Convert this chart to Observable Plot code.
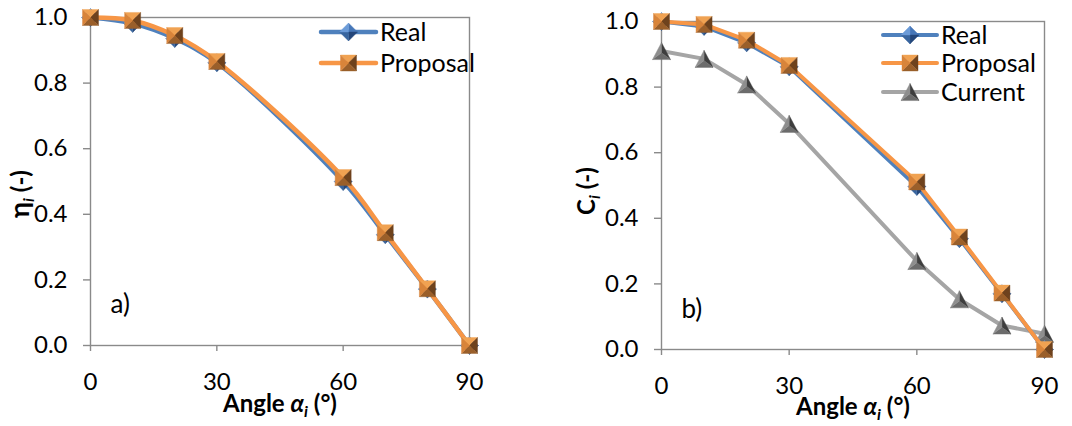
<!DOCTYPE html>
<html><head><meta charset="utf-8">
<script src="https://cdn.jsdelivr.net/npm/d3@7"></script>
<script src="https://cdn.jsdelivr.net/npm/@observablehq/plot@0.6"></script>
<style>
body{margin:0;background:#fff;}
#wrap{display:flex;width:1072px;height:426px;overflow:hidden;}
#wrap svg{flex:none;}
</style></head><body><div id="wrap"></div>
<script>
// ---- data ----
const angles = [0, 10, 20, 30, 60, 70, 80, 90];
const realA = [1.0, 0.982, 0.936, 0.862, 0.500, 0.338, 0.172, 0.0];
const proposalA = [1.0, 0.991, 0.945, 0.866, 0.512, 0.344, 0.173, 0.0];
const realB = [1.0, 0.985, 0.935, 0.862, 0.497, 0.338, 0.170, 0.0];
const proposalB = [1.0, 0.991, 0.943, 0.866, 0.511, 0.343, 0.172, 0.0];
const currentB = [0.910, 0.886, 0.808, 0.688, 0.270, 0.153, 0.073, 0.048];
const seriesNames = ["Real", "Proposal", "Current"];
const xTicks = [0, 30, 60, 90];
const yTicks = [0, 0.2, 0.4, 0.6, 0.8, 1.0];
const panelTags = ["a)", "b)"];

// ---- styles ----
const FONT = "Lato, 'Open Sans', sans-serif";
const FS = 24;
const TICKFS = 24;
const lineColors = {Real: "#4F81BD", Proposal: "#F79646", Current: "#A5A5A5"};
const markerShape = {Real: "diamond", Proposal: "square", Current: "triangle"};
const markerR = {Real: 9, Proposal: 8, Current: 9};
const facetColors = {
  diamond: ["#4677B8", "#24467A", "#38659F", "#6B9BD8"],
  square: ["#F0A252", "#6E421D", "#9A5F2A", "#D8843A"],
  triangle: ["#3E3E3E", "#6C6C6C", "#8E8E8E"]
};

function facetSymbol(shape, i) {
  return {
    draw(ctx, size) {
      const r = Math.sqrt(size / Math.PI);
      let c, apex = [0, 0];
      if (shape === "square") c = [[-r, -r], [r, -r], [r, r], [-r, r]];
      else if (shape === "diamond") c = [[0, -r], [r, 0], [0, r], [-r, 0]];
      else { const h = r * 0.95; c = [[0, -h], [r, h], [-r, h]]; apex = [0, h * 0.2]; }
      const a = c[i], b = c[(i + 1) % c.length];
      ctx.moveTo(a[0], a[1]); ctx.lineTo(b[0], b[1]); ctx.lineTo(apex[0], apex[1]); ctx.closePath();
    }
  };
}

function rows(name, vals) { return angles.map((a, k) => ({angle: a, value: vals[k], series: name})); }

function seriesMarks(name, data, curve, sw) {
  const shape = markerShape[name];
  const marks = [Plot.line(data, {x: "angle", y: "value", stroke: lineColors[name], strokeWidth: sw, curve})];
  facetColors[shape].forEach((col, i) => {
    marks.push(Plot.dot(data, {x: "angle", y: "value", r: markerR[name], symbol: facetSymbol(shape, i), fill: col, stroke: col, strokeWidth: 0.4}));
  });
  return marks;
}

function makePanel(cfg) {
  const marks = [
    Plot.frame({stroke: "#8A8A8A", strokeWidth: 1.4}),
    Plot.axisX({ticks: xTicks, tickSize: 6, tickPadding: 21, label: null, stroke: "#8A8A8A", strokeWidth: 1.4, fill: "#000", fontSize: TICKFS}),
    Plot.axisY({ticks: yTicks, tickSize: 7, tickPadding: 16, label: null, tickFormat: d3.format(".1f"), stroke: "#8A8A8A", strokeWidth: 1.4, fill: "#000", fontSize: TICKFS}),
    Plot.text([cfg.tag], {text: d => d, frameAnchor: "bottom-left", dx: 20, dy: -cfg.tagDy, textAnchor: "start", fontSize: 26, fill: "#000"})
  ];
  cfg.series.forEach(s => marks.push(...seriesMarks(s.name, s.data, cfg.curve, cfg.sw)));
  const svg = Plot.plot({
    width: 536, height: 426,
    marginLeft: cfg.ml, marginRight: cfg.mr, marginTop: cfg.mt, marginBottom: cfg.mb,
    x: {domain: [0, 90]},
    y: {domain: [0, 1]},
    style: {fontFamily: FONT, fontSize: FS + "px", background: "#fff", color: "#000"},
    marks
  });
  const g = d3.select(svg);
  g.selectAll('g[aria-label$="tick label"]').style("font-size", TICKFS + "px");
  // x title
  const xt = g.append("text").attr("x", cfg.xtX).attr("y", cfg.xtY).attr("text-anchor", "middle")
    .style("font-family", FONT).style("font-weight", "bold").style("font-size", FS + "px").attr("fill", "#000");
  xt.append("tspan").text("Angle ");
  xt.append("tspan").text("α").style("font-style", "italic");
  xt.append("tspan").text("i").style("font-style", "italic").style("font-size", "16px").attr("dy", 5);
  xt.append("tspan").text(" (°)").attr("dy", -5);
  // y title
  const yt = g.append("text").attr("transform", `translate(${cfg.ytX},${cfg.ytY}) rotate(-90)`).attr("text-anchor", "middle")
    .style("font-family", FONT).style("font-weight", "bold").style("font-size", FS + "px").attr("fill", "#000");
  yt.append("tspan").text(cfg.ySym).style("font-size", cfg.ySymSize);
  yt.append("tspan").text("i").style("font-style", "italic").style("font-size", "16px").attr("dy", 5);
  yt.append("tspan").text(" (-)").attr("dy", -5);
  // legend
  const lg = g.append("g");
  cfg.legend.forEach((name, k) => {
    const y = cfg.lgRows[k];
    lg.append("line").attr("x1", cfg.lgX1).attr("x2", cfg.lgX2).attr("y1", y).attr("y2", y)
      .attr("stroke", lineColors[name]).attr("stroke-width", cfg.sw).attr("stroke-linecap", "round");
    const shape = markerShape[name], r = markerR[name];
    const mx = (cfg.lgX1 + cfg.lgX2) / 2;
    facetColors[shape].forEach((col, i) => {
      lg.append("path").attr("transform", `translate(${mx},${y})`)
        .attr("d", d3.symbol(facetSymbol(shape, i), r * r * Math.PI)())
        .attr("fill", col).attr("stroke", col).attr("stroke-width", 0.4);
    });
    lg.append("text").attr("x", cfg.lgX2 + 4).attr("y", y).attr("dy", "0.36em").attr("text-anchor", "start")
      .style("font-family", FONT).style("font-size", "25px").attr("fill", "#000").text(name);
  });
  return svg;
}

const wrap = document.getElementById("wrap");
wrap.appendChild(makePanel({
  tag: panelTags[0], tagDy: 33, ml: 90, mr: 67, mt: 17, mb: 81, curve: "catmull-rom", sw: 4.5,
  series: [{name: seriesNames[0], data: rows(seriesNames[0], realA)}, {name: seriesNames[1], data: rows(seriesNames[1], proposalA)}],
  legend: [seriesNames[0], seriesNames[1]],
  xtX: 280, xtY: 412, ytX: 29, ytY: 194, ySym: "η", ySymSize: "27px",
  lgX1: 321, lgX2: 376, lgRows: [32, 63]
}));
wrap.appendChild(makePanel({
  tag: panelTags[1], tagDy: 32, ml: 125, mr: 28, mt: 21, mb: 77, curve: "linear", sw: 4,
  series: [{name: seriesNames[2], data: rows(seriesNames[2], currentB)}, {name: seriesNames[0], data: rows(seriesNames[0], realB)}, {name: seriesNames[1], data: rows(seriesNames[1], proposalB)}],
  legend: [seriesNames[0], seriesNames[1], seriesNames[2]],
  xtX: 317, xtY: 415, ytX: 59, ytY: 191, ySym: "C", ySymSize: FS + "px",
  lgX1: 347, lgX2: 401, lgRows: [35, 63, 92]
}));
</script></body></html>
